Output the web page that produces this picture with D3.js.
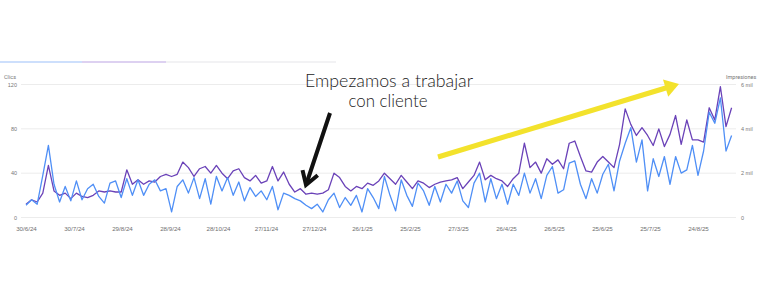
<!DOCTYPE html>
<html>
<head>
<meta charset="utf-8">
<script src="https://cdn.jsdelivr.net/npm/d3@7"></script>
<style>
  body { margin: 0; background: #fff; }
  svg { display: block; font-family: Roboto, "Noto Sans", sans-serif; }
</style>
</head>
<body>
<div id="chart"></div>
<script>
// serie diaria muestreada cada 3,5 dias (pico / valle semanal)
const startDate = new Date(2024, 5, 30);
const endDate = new Date(2025, 8, 15);
const stepHours = 84;

const clicks = [
  11, 16, 12, 38, 65, 30, 14, 28, 15, 33,
  16, 26, 30, 19, 13, 31, 33, 18, 35, 20,
  34, 20, 30, 34, 24, 26, 5, 28, 34, 22,
  36, 17, 35, 12, 37, 24, 36, 20, 32, 15,
  27, 19, 24, 16, 28, 7, 22, 20, 17, 15,
  11, 8, 12, 5, 16, 22, 9, 18, 11, 20,
  5, 26, 18, 8, 37, 20, 6, 34, 20, 10,
  31, 24, 11, 28, 14, 30, 22, 33, 15, 9,
  31, 40, 14, 35, 17, 30, 12, 30, 20, 40,
  22, 35, 17, 38, 46, 22, 25, 49, 51, 30,
  17, 35, 22, 39, 48, 24, 51, 67, 81, 50,
  70, 24, 53, 37, 55, 30, 55, 40, 43, 65,
  38, 60, 95, 85, 108, 60, 74
];

const impressions = [
  600, 800, 700, 1100, 2350, 1200, 1000, 1100, 850, 1100,
  950, 900, 1000, 1200, 1150, 1200, 1150, 1150, 2150, 1500,
  1700, 1500, 1650, 1600, 1850, 1950, 1850, 1950, 2500, 2250,
  1850, 2200, 2300, 2000, 2350, 2000, 1750, 2100, 2200, 1800,
  1650, 1900, 1550, 1650, 2300, 1650, 2050, 1500, 1150, 1300,
  1050, 1100, 1050, 1100, 1250, 2000, 1800, 1400, 1200, 1400,
  1300, 1550, 1450, 1650, 2000, 1750, 1500, 1900, 1600, 1300,
  1650, 1550, 1350, 1500, 1600, 1650, 1700, 1800, 1300, 1600,
  1900, 2500, 1700, 1900, 1750, 1650, 1400, 1750, 2000, 3350,
  2250, 2500, 2000, 2650, 2400, 2600, 2200, 3350, 3450, 2750,
  2100, 2050, 2500, 2750, 2500, 2250, 3300, 4900, 4200, 3700,
  4050, 3700, 3250, 4000, 3200, 3750, 4600, 3300, 4400, 3500,
  3500, 3400, 4950, 4400, 5900, 4100, 4950
];

const xTickLabels = ["30/6/24", "30/7/24", "29/8/24", "28/9/24", "28/10/24", "27/11/24", "27/12/24",
  "26/1/25", "25/2/25", "27/3/25", "26/4/25", "26/5/25", "25/6/25", "25/7/25", "24/8/25"];
const clicksTicks = [0, 40, 80, 120];
const impressionTicks = [0, 2000, 4000, 6000];

const width = 760;
const height = 300;

const svg = d3.select("#chart").append("svg")
    .attr("width", width)
    .attr("height", height);

// pestañas de arriba (restos de la captura)
const tabs = [
    { x0: 0, x1: 82, color: "#cddffc" },
    { x0: 82, x1: 166, color: "#ddd1f1" },
    { x0: 166, x1: 336, color: "#f2f2f4" }
];
svg.selectAll(".tab")
    .data(tabs)
    .enter().append("rect")
    .attr("x", d => d.x0)
    .attr("y", 61)
    .attr("width", d => d.x1 - d.x0)
    .attr("height", 2)
    .attr("fill", d => d.color);

const dates = clicks.map((d, i) => d3.timeHour.offset(startDate, i * stepHours));
const parseTick = d3.timeParse("%d/%m/%y");

const x = d3.scaleTime()
    .domain([startDate, endDate])
    .range([26, 733.2]);

const yLeft = d3.scaleLinear()
    .domain([0, 120])
    .range([217.5, 84.5]);

const yRight = d3.scaleLinear()
    .domain([0, 6000])
    .range([217.5, 84.5]);

// grid
svg.append("g")
    .selectAll("line")
    .data(clicksTicks)
    .enter().append("line")
    .attr("x1", 21)
    .attr("x2", 736)
    .attr("y1", d => yLeft(d))
    .attr("y2", d => yLeft(d))
    .attr("stroke", "#ececec")
    .attr("stroke-width", 1);

// axes
const xAxis = svg.append("g")
    .attr("transform", "translate(0, 218)")
    .call(d3.axisBottom(x)
        .tickValues(xTickLabels.map(parseTick))
        .tickFormat(d3.timeFormat("%-d/%-m/%y"))
        .tickSize(0)
        .tickPadding(9));
xAxis.select(".domain").remove();
xAxis.selectAll("text")
    .attr("fill", "#6f6f6f")
    .style("font-size", "6.2px");

const leftAxis = svg.append("g")
    .attr("transform", "translate(17, 0)")
    .call(d3.axisLeft(yLeft).tickValues(clicksTicks).tickSize(0).tickPadding(0));
leftAxis.select(".domain").remove();
leftAxis.selectAll("text")
    .attr("fill", "#777")
    .style("font-size", "5.5px");

const rightAxis = svg.append("g")
    .attr("transform", "translate(741, 0)")
    .call(d3.axisRight(yRight).tickValues(impressionTicks).tickSize(0).tickPadding(0)
        .tickFormat(d => d === 0 ? "0" : (d / 1000) + " mil"));
rightAxis.select(".domain").remove();
rightAxis.selectAll("text")
    .attr("fill", "#777")
    .style("font-size", "5.5px");

svg.append("text")
    .attr("x", 4)
    .attr("y", 78.5)
    .attr("fill", "#777")
    .style("font-size", "5.5px")
    .text("Clics");

svg.append("text")
    .attr("x", 726)
    .attr("y", 78.5)
    .attr("fill", "#777")
    .style("font-size", "5.5px")
    .text("Impresiones");

// lines
const impLine = d3.line()
    .x((d, i) => x(dates[i]))
    .y(d => yRight(d));

const clickLine = d3.line()
    .x((d, i) => x(dates[i]))
    .y(d => yLeft(d));

svg.append("path")
    .datum(impressions)
    .attr("fill", "none")
    .attr("stroke", "#6a42b8")
    .attr("stroke-width", 1.3)
    .attr("stroke-linejoin", "round")
    .attr("d", impLine);

svg.append("path")
    .datum(clicks)
    .attr("fill", "none")
    .attr("stroke", "#4f8ff6")
    .attr("stroke-width", 1.3)
    .attr("stroke-linejoin", "round")
    .attr("d", clickLine);

// anotaciones
const note = svg.append("g")
    .attr("fill", "#222")
    .attr("text-anchor", "middle")
    .style("font-family", "Lato, 'Open Sans', sans-serif")
    .style("font-weight", 300)
    .style("font-size", "17px");

note.append("text")
    .attr("x", 389)
    .attr("y", 87)
    .attr("textLength", 168)
    .attr("lengthAdjust", "spacingAndGlyphs")
    .text("Empezamos a trabajar");

note.append("text")
    .attr("x", 388)
    .attr("y", 107)
    .attr("textLength", 79)
    .attr("lengthAdjust", "spacingAndGlyphs")
    .text("con cliente");

function arrowHead(tip, from, len, half) {
    const dx = tip[0] - from[0];
    const dy = tip[1] - from[1];
    const l = Math.hypot(dx, dy);
    const ux = dx / l, uy = dy / l;
    const bx = tip[0] - ux * len, by = tip[1] - uy * len;
    return [[bx - uy * half, by + ux * half], tip, [bx + uy * half, by - ux * half]];
}

// flecha negra
const blackFrom = [330, 113];
const blackTip = [306, 185];
svg.append("line")
    .attr("x1", blackFrom[0]).attr("y1", blackFrom[1])
    .attr("x2", blackTip[0] + 1).attr("y2", blackTip[1] - 3)
    .attr("stroke", "#111")
    .attr("stroke-width", 4);
svg.append("path")
    .attr("d", d3.line()(arrowHead(blackTip, blackFrom, 13, 8)))
    .attr("fill", "none")
    .attr("stroke", "#111")
    .attr("stroke-width", 4)
    .attr("stroke-linejoin", "miter");

// flecha amarilla
const yellowFrom = [438, 157];
const yellowTip = [679, 84];
const yHead = arrowHead(yellowTip, yellowFrom, 14, 9);
svg.append("line")
    .attr("x1", yellowFrom[0]).attr("y1", yellowFrom[1])
    .attr("x2", yellowTip[0] - 10).attr("y2", yellowTip[1] + 3)
    .attr("stroke", "#f3e22c")
    .attr("stroke-width", 5);
svg.append("path")
    .attr("d", d3.line()(yHead) + "Z")
    .attr("fill", "#f3e22c");
</script>
</body>
</html>
